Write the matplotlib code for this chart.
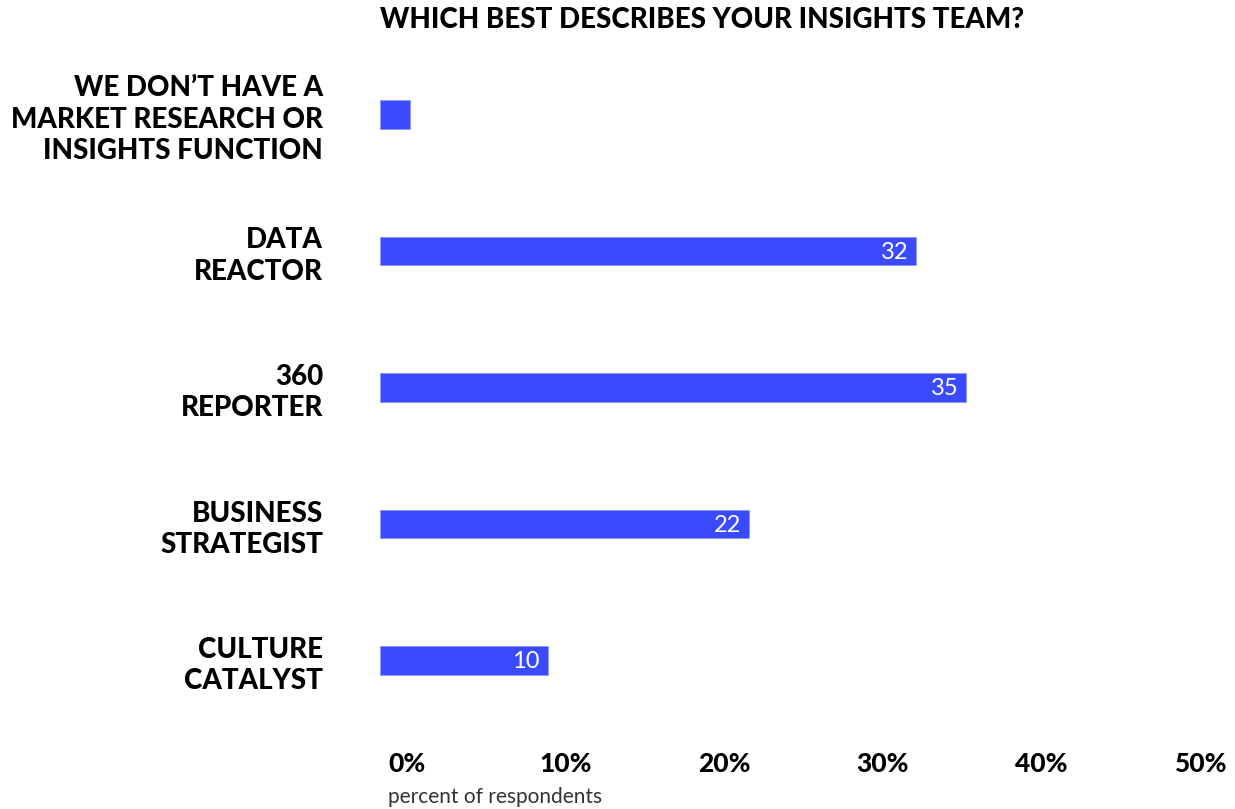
import matplotlib.pyplot as plt

# survey answers, top to bottom
perfis = ["WE DON\u2019T HAVE A\nMARKET RESEARCH OR\nINSIGHTS FUNCTION",
          "DATA\nREACTOR",
          "360\nREPORTER",
          "BUSINESS\nSTRATEGIST",
          "CULTURE\nCATALYST"]
percentagens = [1.8, 32, 35, 22, 10]
rotulos = ["", "32", "35", "22", "10"]
ticks = [0, 10, 20, 30, 40, 50]

azul = "#3a4bff"
fonte_forte = "Lato"

fig = plt.figure(figsize=(12.35, 8.09), dpi=100)
ax = fig.add_axes([380/1235, 1 - 728.75/809, 837.5/1235, 682.5/809])

y = list(range(len(perfis)))
ax.barh(y, percentagens, height=0.212, color=azul, edgecolor="#8c97ff", linewidth=0.6)
ax.set_xlim(0, 50)
ax.set_ylim(len(perfis) - 0.5, -0.5)

for i, (v, r) in enumerate(zip(percentagens, rotulos)):
    if r:
        ax.text(v - 0.45, i + 0.01, r, color="white", ha="right", va="center",
                fontsize=17, family="Lato", fontweight="normal")

ax.set_yticks(y)
ax.set_yticklabels(perfis, family=fonte_forte, fontweight="black", fontsize=20,
                   linespacing=1.25)
ax.tick_params(axis="y", length=0, pad=41)
ax.tick_params(axis="x", bottom=False, labelbottom=False)
for s in ax.spines.values():
    s.set_visible(False)

# percent scale shown under the bars
sec = ax.secondary_xaxis("bottom", functions=(lambda x: (x - 1.6) / 0.947,
                                              lambda u: u * 0.947 + 1.6))
sec.set_xticks(ticks)
sec.set_xticklabels([f"{t}%" for t in ticks], family=fonte_forte,
                    fontweight="black", fontsize=19)
sec.tick_params(length=0, pad=17)
sec.spines["bottom"].set_visible(False)

fig.text(380/1235, 1 - 20/809, "WHICH BEST DESCRIBES YOUR INSIGHTS TEAM?",
         family=fonte_forte, fontweight="black", fontsize=20, va="center", ha="left")
fig.text(388/1235, 1 - 797/809, "percent of respondents", family="Lato",
         fontweight="normal", fontsize=15, color="#333333", va="center", ha="left")

fig.savefig("out.png", dpi=100, facecolor="white")
